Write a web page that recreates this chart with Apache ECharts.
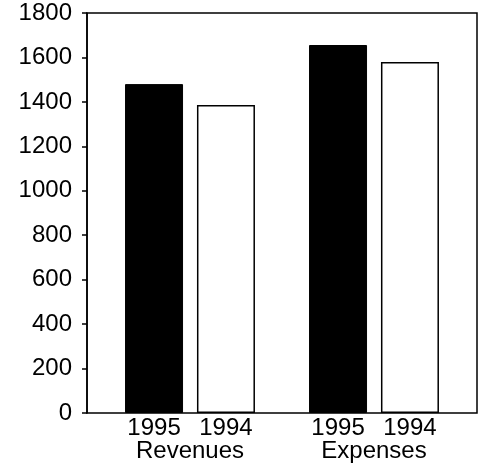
<!DOCTYPE html>
<html>
<head>
<meta charset="utf-8">
<script src="https://cdn.jsdelivr.net/npm/echarts@6/dist/echarts.min.js"></script>
<style>
html,body{margin:0;padding:0;background:#fff;}
#chart{width:483px;height:471px;}
</style>
</head>
<body>
<div id="chart"></div>
<script>
var categories = ['Revenues', 'Expenses'];
var years = ['1995', '1994'];
var values1995 = [1480, 1656];
var values1994 = [1386, 1579];
var yTicks = [0, 200, 400, 600, 800, 1000, 1200, 1400, 1600, 1800];

var FONT = 'Liberation Sans';
var FS = 24;
var chart = echarts.init(document.getElementById('chart'), null, {renderer: 'canvas'});
var option = {
  animation: false,
  backgroundColor: '#fff',
  textStyle: {fontFamily: FONT},
  grid: [
    {left: 87, right: 6, top: 13, bottom: 58, show: true, borderColor: '#000', borderWidth: 1.5, backgroundColor: 'transparent'},
    {left: 98, right: 17, top: 13, bottom: 58}
  ],
  xAxis: [
    {gridIndex: 0, type: 'category', data: categories, show: false},
    {gridIndex: 1, type: 'category', data: categories,
     axisLine: {show: false}, axisTick: {show: false},
     axisLabel: {color: '#000', fontSize: FS, fontFamily: FONT, margin: 26}}
  ],
  yAxis: [
    {gridIndex: 0, type: 'value', min: yTicks[0], max: yTicks[yTicks.length - 1], interval: 200,
     splitLine: {show: false},
     axisLine: {show: true, lineStyle: {color: '#000', width: 1.5}},
     axisTick: {show: true, length: 5, lineStyle: {color: '#000', width: 1.5}},
     axisLabel: {color: '#000', fontSize: FS, fontFamily: FONT, margin: 15,
                 formatter: function (v) { return String(v); }}},
    {gridIndex: 1, type: 'value', min: yTicks[0], max: yTicks[yTicks.length - 1], show: false, splitLine: {show: false}}
  ],
  series: [
    {name: years[0], type: 'bar', xAxisIndex: 1, yAxisIndex: 1, data: values1995,
     barWidth: 58, barGap: '24%',
     itemStyle: {color: '#000', borderColor: '#000', borderWidth: 1},
     label: {show: true, position: 'bottom', distance: 3, formatter: '{a}', color: '#000', fontSize: FS, fontFamily: FONT}},
    {name: years[1], type: 'bar', xAxisIndex: 1, yAxisIndex: 1, data: values1994,
     barWidth: 58, barGap: '24%',
     itemStyle: {color: '#fff', borderColor: '#000', borderWidth: 1.5},
     label: {show: true, position: 'bottom', distance: 3, formatter: '{a}', color: '#000', fontSize: FS, fontFamily: FONT}}
  ]
};
chart.setOption(option);
</script>
</body>
</html>
